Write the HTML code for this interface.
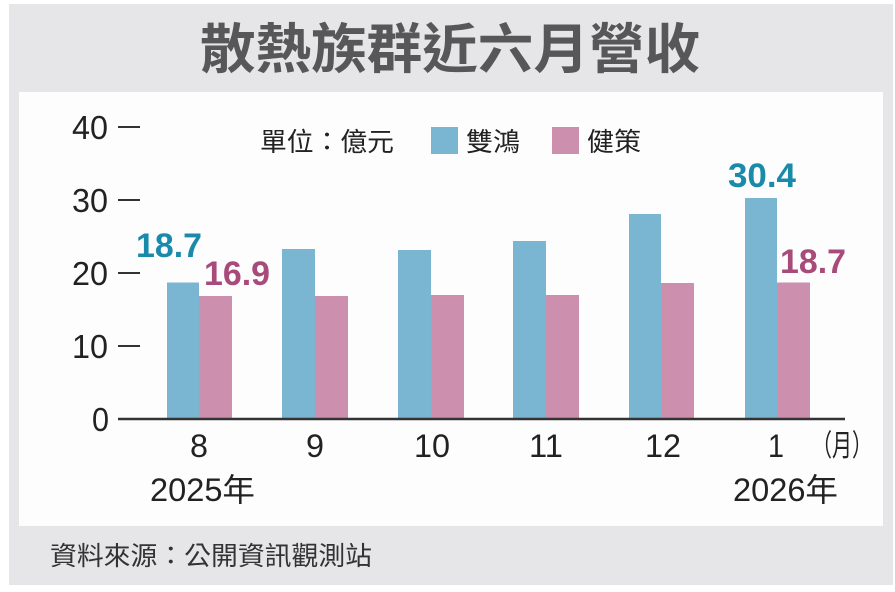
<!DOCTYPE html>
<html><head><meta charset="utf-8"><style>
html,body{margin:0;padding:0;background:#fff;}
body{width:895px;height:592px;position:relative;overflow:hidden;font-family:"Liberation Sans","Noto Sans CJK TC",sans-serif;}
.a{position:absolute;}
</style></head><body>
<div class="a" style="left:9px;top:4px;width:884px;height:581px;background:#e6e6e8;"></div>
<div class="a" style="left:19px;top:92px;width:864px;height:434px;background:#fdfdfd;"></div>
<svg class="a" style="left:0;top:0" width="895" height="592">
<text x="450" y="68" text-anchor="middle" font-family="Liberation Sans,Noto Sans CJK TC,sans-serif" font-weight="bold" font-size="54" fill="#575759" textLength="500" lengthAdjust="spacingAndGlyphs">散熱族群近六月營收</text>
<g font-family="Liberation Sans,sans-serif" font-size="33" fill="#222">
<text x="72" y="139" textLength="36" lengthAdjust="spacingAndGlyphs">40</text>
<text x="72" y="212" textLength="36" lengthAdjust="spacingAndGlyphs">30</text>
<text x="72" y="285" textLength="36" lengthAdjust="spacingAndGlyphs">20</text>
<text x="72" y="358" textLength="36" lengthAdjust="spacingAndGlyphs">10</text>
<text x="92" y="431" textLength="17" lengthAdjust="spacingAndGlyphs">0</text>
</g>
<g stroke="#333" stroke-width="2">
<line x1="118" y1="127" x2="140" y2="127"/><line x1="118" y1="200" x2="140" y2="200"/><line x1="118" y1="273" x2="140" y2="273"/><line x1="118" y1="346" x2="140" y2="346"/>
</g>
<g fill="#7ab5d1">
<rect x="167" y="282.5" width="32" height="136.5"/>
<rect x="282" y="249" width="33" height="170"/>
<rect x="398" y="250" width="33" height="169"/>
<rect x="513" y="241" width="33" height="178"/>
<rect x="629" y="214" width="32" height="205"/>
<rect x="745" y="198" width="32" height="221"/>
</g>
<g fill="#cc8fae">
<rect x="199" y="296" width="33" height="123"/>
<rect x="315" y="296" width="33" height="123"/>
<rect x="431" y="295" width="33" height="124"/>
<rect x="546" y="295" width="33" height="124"/>
<rect x="661" y="283" width="33" height="136"/>
<rect x="777" y="282.5" width="33" height="136.5"/>
</g>
<line x1="118" y1="419" x2="845" y2="419" stroke="#333" stroke-width="2.5"/>
<g font-family="Liberation Sans,sans-serif" font-weight="bold" font-size="34">
<text x="136" y="257" fill="#1a8aab" textLength="66" lengthAdjust="spacingAndGlyphs">18.7</text>
<text x="204" y="285" fill="#a84a7a" textLength="66" lengthAdjust="spacingAndGlyphs">16.9</text>
<text x="728" y="187" fill="#1a8aab" textLength="68" lengthAdjust="spacingAndGlyphs">30.4</text>
<text x="780" y="273" fill="#a84a7a" textLength="66" lengthAdjust="spacingAndGlyphs">18.7</text>
</g>
<g font-family="Liberation Sans,Noto Sans CJK TC,sans-serif" font-size="32" fill="#222">
<text x="190" y="457" textLength="18" lengthAdjust="spacingAndGlyphs">8</text>
<text x="306" y="457" textLength="18" lengthAdjust="spacingAndGlyphs">9</text>
<text x="414" y="457" textLength="36" lengthAdjust="spacingAndGlyphs">10</text>
<text x="529" y="457" textLength="34" lengthAdjust="spacingAndGlyphs">11</text>
<text x="645" y="457" textLength="36" lengthAdjust="spacingAndGlyphs">12</text>
<text x="768" y="457" textLength="16" lengthAdjust="spacingAndGlyphs">1</text>
<text x="812" y="456" font-size="30" textLength="60" lengthAdjust="spacingAndGlyphs">（月）</text>
<text x="150" y="501" textLength="105" lengthAdjust="spacingAndGlyphs">2025年</text>
<text x="733" y="501" textLength="105" lengthAdjust="spacingAndGlyphs">2026年</text>
</g>
<g font-family="Liberation Sans,Noto Sans CJK TC,sans-serif" font-size="26" fill="#222">
<text x="260" y="151" textLength="134" lengthAdjust="spacingAndGlyphs">單位：億元</text>
<rect x="431" y="127" width="27" height="27" fill="#7ab5d1"/>
<text x="466" y="151" textLength="54" lengthAdjust="spacingAndGlyphs">雙鴻</text>
<rect x="552" y="127" width="27" height="27" fill="#cc8fae"/>
<text x="587" y="151" textLength="54" lengthAdjust="spacingAndGlyphs">健策</text>
<text x="50" y="565" fill="#333" textLength="322" lengthAdjust="spacingAndGlyphs">資料來源：公開資訊觀測站</text>
</g>
</svg>
</body></html>
